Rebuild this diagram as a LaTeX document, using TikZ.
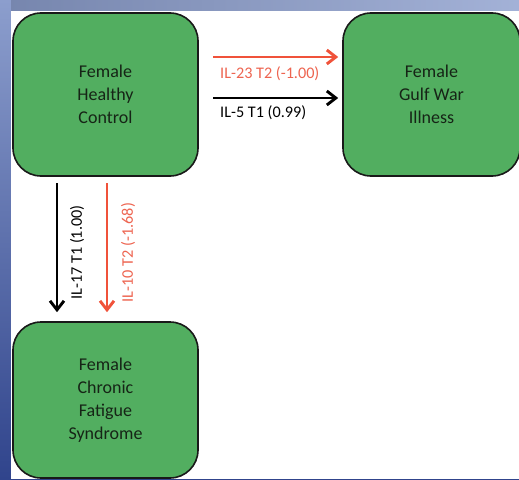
\documentclass[tikz,border=0pt]{standalone}
\usepackage{fontspec}
\setmainfont{Carlito}
\usetikzlibrary{arrows.meta}
\definecolor{boxgreen}{RGB}{82,174,96}
\definecolor{boxtext}{RGB}{22,36,22}
\definecolor{arrred}{RGB}{240,82,58}
\definecolor{lblred}{RGB}{238,100,80}
\definecolor{bgtop}{RGB}{140,158,205}
\definecolor{bgbot}{RGB}{48,68,140}
\tikzset{
  group/.style={draw=black!90, line width=1.6pt, fill=boxgreen, rounded corners=28pt,
    text=boxtext, align=center, font=\fontsize{18}{23}\selectfont, inner sep=0pt},
  lbl/.style={font=\fontsize{16.2}{18}\selectfont, inner sep=0pt},
  arr/.style={line width=2.9pt, -{Straight Barb[length=9pt,width=14pt,line width=2.9pt]}},
}
\begin{document}
\begin{tikzpicture}[x=1pt,y=-1pt]
\useasboundingbox (0,0) rectangle (519,479);
\begin{scope}
\clip (0,0) rectangle (519,479);
\shade[top color=bgtop, bottom color=bgbot] (0,0) rectangle (519,479);
\shade[left color=bgtop!85!black, right color=bgtop!80!white] (11,0) rectangle (519,11);
\fill[white] (11,11) rectangle (519,479);
\node[group, minimum width=185pt, minimum height=163pt] (hc) at (105.5,94.5) {Female\\Healthy\\Control};
\node[group, minimum width=177pt, minimum height=163pt] (gwi) at (431.5,94.5) {Female\\Gulf War\\Illness};
\node[group, minimum width=185pt, minimum height=156pt] (cfs) at (105.5,400) {Female\\Chronic\\Fatigue\\Syndrome};
\end{scope}
\coordinate (r1s) at (213,57);
\coordinate (b1s) at (213,98);
\draw[arr, arrred] (r1s) -- ([xshift=-4pt]r1s -| gwi.west);
\draw[arr, black] (b1s) -- ([xshift=-4pt]b1s -| gwi.west);
\node[lbl, text=lblred, anchor=west] (l1) at (220,74) {IL-23 T2 (-1.00)};
\node[lbl, text=black, anchor=west] (l2) at (220,113) {IL-5 T1 (0.99)};
\coordinate (bvs) at (57,183);
\coordinate (rvs) at (107,183);
\draw[arr, black] (bvs) -- ([yshift=9pt]bvs |- cfs.north);
\draw[arr, arrred] (rvs) -- ([yshift=9pt]rvs |- cfs.north);
\node[lbl, text=black, rotate=90] (l3) at (77,252.5) {IL-17 T1 (1.00)};
\node[lbl, text=lblred, rotate=90] (l4) at (128,252.5) {IL-10 T2 (-1.68)};
\end{tikzpicture}
\end{document}
